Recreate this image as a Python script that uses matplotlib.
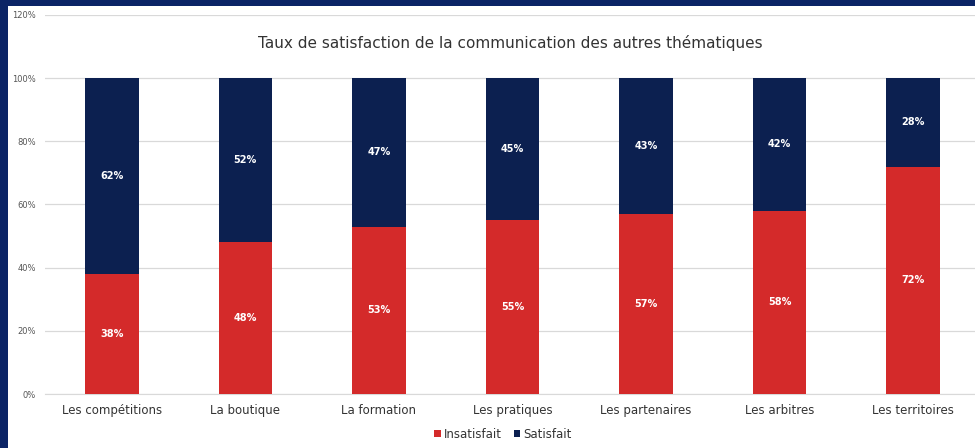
import matplotlib
matplotlib.use("Agg")
import matplotlib.pyplot as plt
from matplotlib.patches import Rectangle
import numpy as np

plt.rcParams["font.family"] = ["DejaVu Sans"]

categories = ["Les compétitions", "La boutique", "La formation", "Les pratiques",
              "Les partenaires", "Les arbitres", "Les territoires"]
insatisfait = [38, 48, 53, 55, 57, 58, 72]
satisfait = [62, 52, 47, 45, 43, 42, 28]
yticks = [0, 20, 40, 60, 80, 100, 120]

RED = "#d42a2a"
NAVY = "#0c2050"
FRAME = "#0b2466"

W, H = 975, 448
fig = plt.figure(figsize=(W / 100, H / 100), dpi=100)
fig.patch.set_facecolor(FRAME)
fig.patches.append(Rectangle((8 / W, 0), 1, 1 - 6 / H, transform=fig.transFigure,
                             facecolor="white", edgecolor="none", zorder=-5))

# axes: x 45..980 px, y 15..394 px (from top)
ax = fig.add_axes([45 / W, (H - 394) / H, (980 - 45) / W, (394 - 15) / H])
ax.set_facecolor("none")

x = np.arange(len(categories))
bw = 0.4
b1 = ax.bar(x, insatisfait, bw, color=RED, label="Insatisfait", zorder=3)
b2 = ax.bar(x, satisfait, bw, bottom=insatisfait, color=NAVY, label="Satisfait", zorder=3)

for xi, v in zip(x, insatisfait):
    ax.text(xi, v / 2, f"{v}%", ha="center", va="center", color="white",
            fontsize=7, fontweight="bold", zorder=4)
for xi, b, v in zip(x, insatisfait, satisfait):
    ax.text(xi, b + v / 2, f"{v}%", ha="center", va="center", color="white",
            fontsize=7, fontweight="bold", zorder=4)

ax.set_xlim(-0.5, len(categories) - 0.5)
ax.set_ylim(0, 120)
ax.set_yticks(yticks)
ax.set_yticklabels([f"{t}%" for t in yticks], fontsize=6, color="#555555")
ax.yaxis.grid(True, color="#d9d9d9", linewidth=0.9, zorder=0)
ax.set_xticks(x)
ax.set_xticklabels(categories, fontsize=8.5, color="#333333")
ax.tick_params(axis="both", length=0)
ax.tick_params(axis="y", pad=6.5)
ax.tick_params(axis="x", pad=7)
for s in ["top", "right", "left"]:
    ax.spines[s].set_visible(False)
ax.spines["bottom"].set_color("#d9d9d9")

fig.text(510 / W, 1 - 43 / H, "Taux de satisfaction de la communication des autres thématiques",
         ha="center", va="center", fontsize=11, color="#333333")

fig.legend(handles=[b1, b2], labels=["Insatisfait", "Satisfait"], loc="center",
           bbox_to_anchor=(503 / W, 1 - 434 / H), ncol=2, frameon=False,
           fontsize=8.5, handlelength=0.55, handleheight=0.55, handletextpad=0.25,
           columnspacing=1.0)
for t in fig.legends[0].get_texts():
    t.set_color("#333333")

fig.savefig("out.png", dpi=100, facecolor=fig.get_facecolor())
